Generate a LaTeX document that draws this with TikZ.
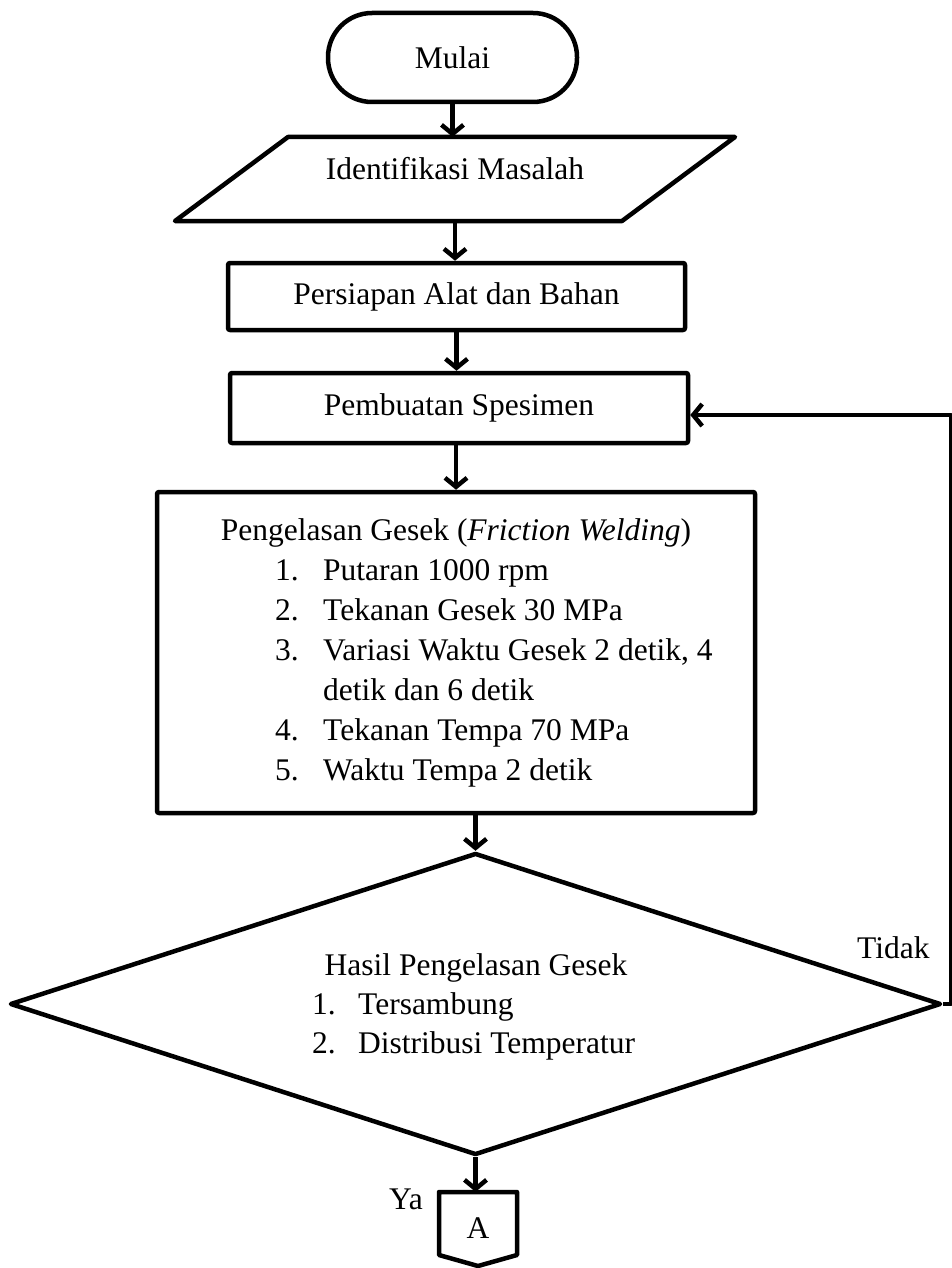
\documentclass[tikz,border=0pt]{standalone}
\usepackage{fontspec}
\setmainfont{Liberation Serif}
\usetikzlibrary{arrows.meta,shapes.geometric}
\begin{document}
\begin{tikzpicture}[x=1pt,y=-1pt,
  font=\fontsize{31.5}{40}\selectfont,
  ln/.style={line width=4.5pt, line join=round},
  proc/.style={ln, draw, rectangle, rounded corners=2pt, inner sep=0pt},
  arr/.style={ln, -{Straight Barb[length=9pt,width=22pt]}},
  txt/.style={inner sep=0pt}]
\useasboundingbox (0,0) rectangle (952,1268);

% start
\node[proc, minimum width=249pt, minimum height=89pt, rounded corners=44pt] (mulai) at (452.5,57.5) {Mulai};

% input/output
\draw[ln] (288,137) -- (735,137) -- (622,221) -- (175,221) -- cycle;
\node[txt, minimum width=447pt, minimum height=84pt] (idm) at (455,179) {};
\node[txt] (idmt) at (455,169) {Identifikasi Masalah};

% processes
\node[proc, minimum width=457pt, minimum height=67pt] (alat) at (456.5,296.5) {Persiapan Alat dan Bahan};
\node[proc, minimum width=458pt, minimum height=70pt] (spes) at (459,408) {Pembuatan Spesimen};
\node[proc, minimum width=598pt, minimum height=321pt] (weld) at (456,652.5) {};
\node[txt, anchor=base] (wt) at (456,540) {Pengelasan Gesek (\textit{Friction Welding})};
\node[txt, anchor=base west] (w1n) at (275,580) {1.};
\node[txt, anchor=base west] (w1) at (323,580) {Putaran 1000 rpm};
\node[txt, anchor=base west] (w2n) at (275,620) {2.};
\node[txt, anchor=base west] (w2) at (323,620) {Tekanan Gesek 30 MPa};
\node[txt, anchor=base west] (w3n) at (275,660) {3.};
\node[txt, anchor=base west] (w3) at (323,660) {Variasi Waktu Gesek 2 detik, 4};
\node[txt, anchor=base west] (w3b) at (323,700) {detik dan 6 detik};
\node[txt, anchor=base west] (w4n) at (275,740) {4.};
\node[txt, anchor=base west] (w4) at (323,740) {Tekanan Tempa 70 MPa};
\node[txt, anchor=base west] (w5n) at (275,780) {5.};
\node[txt, anchor=base west] (w5) at (323,780) {Waktu Tempa 2 detik};

% decision
\node[ln, draw, diamond, minimum width=931pt, minimum height=302pt, inner sep=0pt] (hasil) at (475.5,1004) {};
\node[txt, anchor=base] (ht) at (476,975) {Hasil Pengelasan Gesek};
\node[txt, anchor=base west] (h1n) at (312,1014) {1.};
\node[txt, anchor=base west] (h1) at (358,1014) {Tersambung};
\node[txt, anchor=base west] (h2n) at (312,1053) {2.};
\node[txt, anchor=base west] (h2) at (358,1053) {Distribusi Temperatur};
\node[txt, anchor=base west] (tidak) at (857,958) {Tidak};

% off-page connector
\draw[ln] (439,1192) -- (517,1192) -- (517,1255) -- (478,1266) -- (439,1255) -- cycle;
\node[txt, minimum width=78pt, minimum height=72pt] (conA) at (478,1228) {A};
\node[txt, anchor=base] (ya) at (406,1209) {Ya};

% connectors
\draw[arr] (mulai.south) -- (mulai.south |- idm.north);
\draw[arr] (idm.south) -- (idm.south |- alat.north);
\draw[arr] (alat.south) -- (alat.south |- spes.north);
\draw[arr] (weld.north |- spes.south) -- (weld.north);
\draw[arr] (hasil.north |- weld.south) -- (hasil.north);
\draw[arr] (hasil.south) -- (hasil.south |- conA.north);
\coordinate (c1) at (951,1004);
\coordinate (c2) at (951,415);
\draw[arr] (hasil.east) -- (c1) -- (c2) -- (spes.east |- c2);
\end{tikzpicture}
\end{document}
